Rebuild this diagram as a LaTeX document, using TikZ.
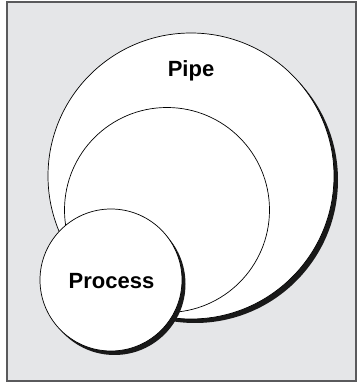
\documentclass[tikz,border=0pt]{standalone}
\usepackage{fontspec}
\setmainfont{Liberation Sans}
\definecolor{bggray}{HTML}{E5E6E8}
\definecolor{framegray}{HTML}{5A5A5C}
\begin{document}
\begin{tikzpicture}[x=1pt,y=1pt,
  disc/.style={circle,draw=black,line width=0.7pt,fill=white,inner sep=0pt},
  shadowdisc/.style={circle,fill=black!90,inner sep=0pt},
  lbl/.style={font=\bfseries\fontsize{22}{25}\selectfont,anchor=base}]
\useasboundingbox (0,0) rectangle (360,384);
\draw[framegray,line width=1.4pt,fill=bggray] (7,3) rectangle (356,382);
% big pipe circle
\node[shadowdisc,minimum size=286pt] (pipeshadow) at (195,204) {};
\node[disc,minimum size=286pt] (pipe) at (191,208) {};
% inner circle
\node[disc,minimum size=205pt] (inner) at (167,174) {};
% process circle
\node[shadowdisc,minimum size=142pt] (procshadow) at (114.5,100) {};
\node[disc,minimum size=142pt] (process) at (111,104) {};
\node[lbl] (pipelabel) at (191,307) {Pipe};
\node[lbl] (proclabel) at (111.5,95.5) {Process};
\end{tikzpicture}
\end{document}
